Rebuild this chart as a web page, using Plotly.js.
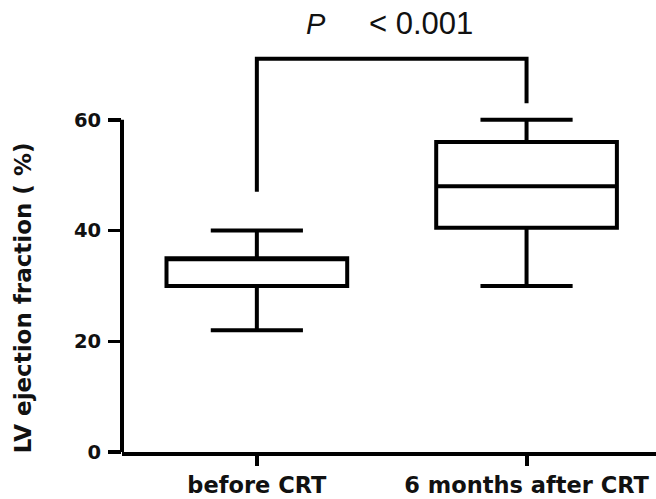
<!DOCTYPE html>
<html>
<head>
<meta charset="utf-8">
<script src="https://cdn.plot.ly/plotly-3.0.1.min.js"></script>
<style>html,body{margin:0;padding:0;background:#fff;}#chart{width:656px;height:499px;}</style>
</head>
<body>
<div id="chart"></div>
<script>
// Data
var categories = ["before CRT", "6 months after CRT"];
var lowerWhisker = [22, 30];
var q1Values = [30, 40.5];
var medianValues = [35, 48];
var q3Values = [35, 56];
var upperWhisker = [40, 60];
var yTickValues = [0, 20, 40, 60];
var yTickLabels = ["0", "20", "40", "60"];
// significance bracket: left leg bottom, top, right leg bottom
var bracketLeft = 47;
var bracketTop = 71;
var bracketRight = 63;
var pText = "P";
var pValueText = "< 0.001";
var yTitle = "LV ejection fraction ( %)";

var FONT = "DejaVu Sans, Arial, sans-serif";

var trace = {
  type: "box",
  x: categories,
  q1: q1Values,
  median: medianValues,
  q3: q3Values,
  lowerfence: lowerWhisker,
  upperfence: upperWhisker,
  width: 0.67,
  whiskerwidth: 0.51,
  fillcolor: "rgba(255,255,255,0)",
  line: {color: "#000", width: 4},
  boxpoints: false,
  hoverinfo: "skip",
  showlegend: false
};

var layout = {
  width: 656,
  height: 499,
  margin: {l: 122, r: 0, t: 9, b: 47},
  paper_bgcolor: "#fff",
  plot_bgcolor: "#fff",
  showlegend: false,
  xaxis: {
    type: "category",
    range: [-0.5, 1.48],
    showline: true,
    linecolor: "#000",
    linewidth: 4,
    ticks: "outside",
    ticklen: 10,
    tickwidth: 4,
    tickcolor: "#000",
    showgrid: false,
    zeroline: false,
    ticklabelstandoff: 0,
    tickfont: {family: FONT, size: 22.5, color: "#111", weight: "bold"}
  },
  yaxis: {
    range: [0, 80],
    showline: false,
    showgrid: false,
    zeroline: false,
    ticks: "outside",
    ticklen: 13,
    tickwidth: 3.5,
    tickcolor: "#000",
    tickvals: yTickValues,
    ticktext: yTickLabels,
    ticklabelstandoff: 3,
    tickfont: {family: FONT, size: 19.5, color: "#111", weight: "bold"}
  },
  shapes: [
    {type: "line", xref: "paper", yref: "y", x0: 0, x1: 0, y0: 0, y1: yTickValues[yTickValues.length - 1],
     line: {color: "#000", width: 4}, layer: "above"},
    {type: "path", xref: "x", yref: "y",
     path: "M 0," + bracketLeft + " L 0," + bracketTop + " L 1," + bracketTop + " L 1," + bracketRight,
     line: {color: "#000", width: 4}}
  ],
  annotations: [
    {xref: "paper", yref: "y", x: -0.185, y: 27.8, text: yTitle, textangle: -90, showarrow: false,
     xanchor: "center", yanchor: "middle",
     font: {family: FONT, size: 23, color: "#111", weight: "bold"}},
    {xref: "x", yref: "y", x: 0.218, y: 77.3, text: "<i>" + pText + "</i>", showarrow: false,
     xanchor: "center", yanchor: "middle",
     font: {family: "Liberation Sans, Arial, sans-serif", size: 29, color: "#111"}},
    {xref: "x", yref: "y", x: 0.61, y: 77.3, text: pValueText, showarrow: false,
     xanchor: "center", yanchor: "middle",
     font: {family: "Liberation Sans, Arial, sans-serif", size: 31, color: "#111"}}
  ]
};

Plotly.newPlot("chart", [trace], layout, {staticPlot: true, displayModeBar: false});
</script>
</body>
</html>
